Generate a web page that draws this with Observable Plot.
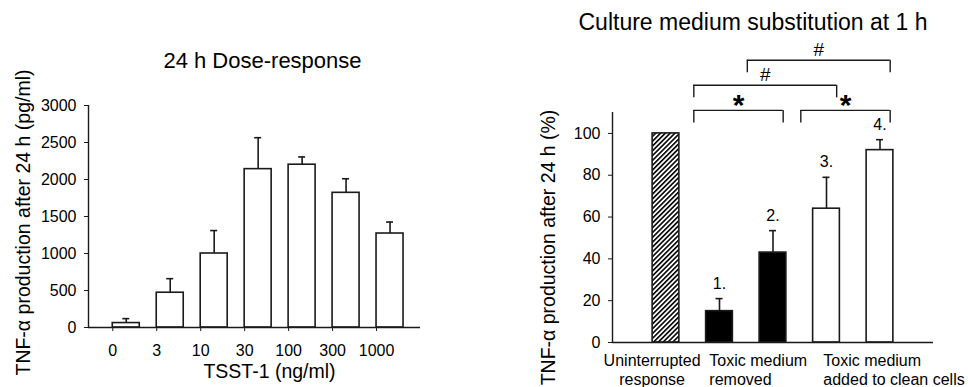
<!DOCTYPE html>
<html>
<head>
<meta charset="utf-8">
<script src="https://cdn.jsdelivr.net/npm/d3@7"></script>
<script src="https://cdn.jsdelivr.net/npm/@observablehq/plot@0.6"></script>
<style>
  body { margin: 0; background: #fff; }
  #chart { position: relative; width: 968px; height: 387px; }
  #chart svg { position: absolute; top: 0; }
</style>
</head>
<body>
<div id="chart"></div>
<script>
// ---- 24 h dose-response to TSST-1 ----
const doses = ["0", "3", "10", "30", "100", "300", "1000"];
const doseTnf = [60, 470, 1000, 2140, 2200, 1820, 1270];      // TNF-α, pg/ml
const doseSem = [60, 190, 310, 425, 105, 190, 155];           // upper error
const doseTicks = [0, 500, 1000, 1500, 2000, 2500, 3000];

// ---- Culture medium substitution at 1 h ----
const condGroup = ["uninterrupted", "removed", "removed", "added", "added"];
const condNumber = ["", "1.", "2.", "3.", "4."];
const condPct = [100, 15, 43, 64, 92];                        // % of uninterrupted response
const condSem = [0, 6, 10.5, 15, 5];
const pctTicks = [0, 20, 40, 60, 80, 100];
const groupLabels = ["Uninterrupted\nresponse", "Toxic medium\nremoved", "Toxic medium\nadded to clean cells"];
// significance brackets between numbered conditions
const comparisons = [
  {a: 1, b: 2, symbol: "*", row: 0},
  {a: 3, b: 4, symbol: "*", row: 0},
  {a: 1, b: 3, symbol: "#", row: 1},
  {a: 2, b: 4, symbol: "#", row: 2}
];

const font = "'Liberation Sans', Arial, Helvetica, sans-serif";
const ink = "#1a1a1a";
const chart = document.getElementById("chart");
const centered = {textAnchor: "middle", lineAnchor: "middle"};

// ---------- left panel ----------
const leftPxPerUnit = 44;
const barW = 0.614;
const capL = 3.5 / leftPxPerUnit;
const doseRows = doses.map((d, i) => ({i, dose: d, v: doseTnf[i], top: doseTnf[i] + doseSem[i]}));

const left = Plot.plot({
  width: 470, height: 387,
  marginLeft: 88, marginRight: 50, marginTop: 105, marginBottom: 60,
  style: {fontFamily: font, fontSize: "16px", color: "black", background: "white", overflow: "visible"},
  x: {domain: [-0.552, 7.0], axis: null},
  y: {domain: [0, 3000], axis: null},
  marks: [
    Plot.rect(doseRows, {x1: "i", x2: d => d.i + barW, y1: 0, y2: "v", fill: "white", stroke: ink, strokeWidth: 1.6}),
    Plot.ruleX(doseRows, {x: d => d.i + barW / 2, y1: "v", y2: "top", stroke: ink, strokeWidth: 1.6}),
    Plot.ruleY(doseRows, {y: "top", x1: d => d.i + barW / 2 - capL, x2: d => d.i + barW / 2 + capL, stroke: ink, strokeWidth: 1.6}),
    Plot.ruleY([0], {stroke: ink, strokeWidth: 1.4}),
    Plot.ruleX([-0.552], {y1: 0, y2: 3000, stroke: ink, strokeWidth: 1.4}),
    Plot.axisX(d3.range(doses.length), {tickSize: 4, tickPadding: 13, tickFormat: i => doses[i], label: null, stroke: ink}),
    Plot.axisY(doseTicks, {tickSize: 4, tickPadding: 8, tickFormat: d => String(d), label: null, stroke: ink}),
    Plot.text(["24 h Dose-response"], {frameAnchor: "top", dx: 8, dy: -45, fontSize: 22, ...centered}),
    Plot.text(["TSST-1 (ng/ml)"], {frameAnchor: "bottom", dx: 15, dy: 44, fontSize: 19.5, ...centered}),
    Plot.text(["TNF-α production after 24 h (pg/ml)"], {frameAnchor: "left", rotate: -90, dx: -65, dy: 6, fontSize: 19.5, ...centered})
  ]
});
left.style.left = "0px";
chart.appendChild(left);

// ---------- right panel ----------
const rightPxPerUnit = 53.5;
const half = 0.25;
const capR = 3.5 / rightPxPerUnit;
const condRows = condPct.map((v, i) => ({i, v, top: v + condSem[i], group: condGroup[i], num: condNumber[i]}));
const errRows = condRows.filter(d => condSem[d.i] > 0);
const fillFor = g => g === "uninterrupted" ? "url(#hatch)" : g === "removed" ? "black" : "white";

const bracketBase = 111, bracketStep = 12, legLen = 6;
const brackets = comparisons.map(c => ({
  x1: c.a - 0.48,
  x2: c.b + 0.19,
  y: bracketBase + c.row * bracketStep,
  symbol: c.symbol
}));

const labelBelow = {y: 0, lineAnchor: "top", dy: 10, lineHeight: 1.17, fontSize: 16};

const right = Plot.plot({
  width: 488, height: 387,
  marginLeft: 132, marginRight: 35, marginTop: 112, marginBottom: 45,
  style: {fontFamily: font, fontSize: "16px", color: "black", background: "white", overflow: "visible"},
  x: {domain: [-1, 5], axis: null},
  y: {domain: [0, 110], axis: null},
  marks: [
    Plot.rect(condRows, {x1: d => d.i - half, x2: d => d.i + half, y1: 0, y2: "v", fill: d => fillFor(d.group), stroke: ink, strokeWidth: 1.6}),
    Plot.ruleX(errRows, {x: "i", y1: "v", y2: "top", stroke: ink, strokeWidth: 1.6}),
    Plot.ruleY(errRows, {y: "top", x1: d => d.i - capR, x2: d => d.i + capR, stroke: ink, strokeWidth: 1.6}),
    Plot.text(errRows, {x: "i", y: "top", text: "num", dy: -15, fontSize: 16, ...centered}),
    Plot.ruleY([0], {stroke: ink, strokeWidth: 1.4}),
    Plot.ruleX([-1], {y1: 0, y2: 110, stroke: ink, strokeWidth: 1.4}),
    Plot.axisY(pctTicks, {tickSize: 4, tickPadding: 8, tickFormat: d => String(d), label: null, stroke: ink}),
    // significance brackets
    Plot.ruleY(brackets, {y: "y", x1: "x1", x2: "x2", stroke: ink, strokeWidth: 1.4}),
    Plot.ruleX(brackets, {x: "x1", y1: d => d.y - legLen, y2: "y", stroke: ink, strokeWidth: 1.4}),
    Plot.ruleX(brackets, {x: "x2", y1: d => d.y - legLen, y2: "y", stroke: ink, strokeWidth: 1.4}),
    Plot.text(brackets.filter(d => d.symbol === "#"), {x: d => (d.x1 + d.x2) / 2, y: d => d.y + 5, text: "symbol", fontSize: 19, ...centered}),
    Plot.text(brackets.filter(d => d.symbol === "*"), {x: d => (d.x1 + d.x2) / 2, y: d => d.y + 5, text: "symbol", fontSize: 30, fontWeight: "bold", dy: 5, ...centered}),
    // group labels under the axis
    Plot.text([groupLabels[0]], {x: -0.26, textAnchor: "middle", ...labelBelow}),
    Plot.text([groupLabels[1]], {x: 0.81, textAnchor: "start", ...labelBelow}),
    Plot.text([groupLabels[2]], {x: 2.94, textAnchor: "start", ...labelBelow}),
    Plot.text(["Culture medium substitution at 1 h"], {frameAnchor: "top", dx: -20, dy: -90, fontSize: 23, ...centered}),
    Plot.text(["TNF-α production after 24 h (%)"], {frameAnchor: "left", rotate: -90, dx: -64, dy: 20, fontSize: 19.5, ...centered})
  ]
});

// diagonal hatching for the uninterrupted-response bar
const defs = d3.select(right).insert("defs", ":first-child");
const pat = defs.append("pattern")
  .attr("id", "hatch")
  .attr("patternUnits", "userSpaceOnUse")
  .attr("width", 3.4).attr("height", 3.4)
  .attr("patternTransform", "rotate(45)");
pat.append("rect").attr("width", 3.4).attr("height", 3.4).attr("fill", "white");
pat.append("line").attr("x1", 0.8).attr("y1", 0).attr("x2", 0.8).attr("y2", 3.4)
  .attr("stroke", "black").attr("stroke-width", 1.6);

right.style.left = "480px";
chart.appendChild(right);
</script>
</body>
</html>
